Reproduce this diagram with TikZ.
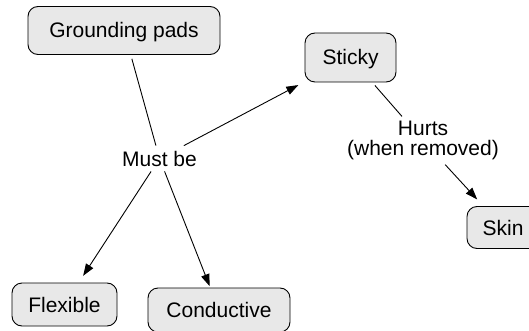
\documentclass[tikz,border=0pt]{standalone}
\usepackage{fontspec}
\setmainfont{Liberation Sans}
\usetikzlibrary{arrows.meta}
\definecolor{boxfill}{RGB}{232,232,232}
\tikzset{
  conceptbox/.style={draw=black, fill=boxfill, line width=0.9pt, rounded corners=10pt,
    font=\fontsize{21}{20}\selectfont, text height=15pt, text depth=0pt, inner sep=0pt},
  linklabel/.style={font=\fontsize{21}{20}\selectfont, align=center, inner xsep=3pt, inner ysep=5pt},
  link/.style={draw=black, line width=0.9pt},
  arr/.style={link, -{Triangle[length=12pt,width=8.5pt]}}
}
\begin{document}
\begin{tikzpicture}[x=1pt,y=-1pt]
\useasboundingbox (0,0) rectangle (529,331);
\node[conceptbox, minimum width=192pt, minimum height=48pt] (gp) at (124,30.5) {Grounding pads};
\node[conceptbox, minimum width=91pt, minimum height=49pt] (sticky) at (350.5,57.5) {Sticky};
\node[conceptbox, minimum width=72pt, minimum height=42pt] (skin) at (503,227.5) {Skin};
\node[conceptbox, minimum width=105pt, minimum height=43pt] (flex) at (64.5,304.5) {Flexible};
\node[conceptbox, minimum width=142pt, minimum height=44pt] (cond) at (219,310) {Conductive};
\node[linklabel] (mustbe) at (159.5,158.5) {Must be};
\node[linklabel, inner ysep=4.5pt] (hurts) at (423,140.5) {Hurts\\(when removed)};
\draw[link, shorten <=4pt] (gp) -- (mustbe);
\draw[arr, shorten >=7pt] (mustbe) -- (sticky);
\draw[arr, shorten >=8pt] (mustbe) -- (flex);
\draw[arr, shorten >=1.5pt] (mustbe) -- (cond);
\draw[link, shorten <=4pt] (sticky) -- (hurts);
\draw[arr, shorten >=9pt] (hurts) -- (skin);
\end{tikzpicture}
\end{document}
